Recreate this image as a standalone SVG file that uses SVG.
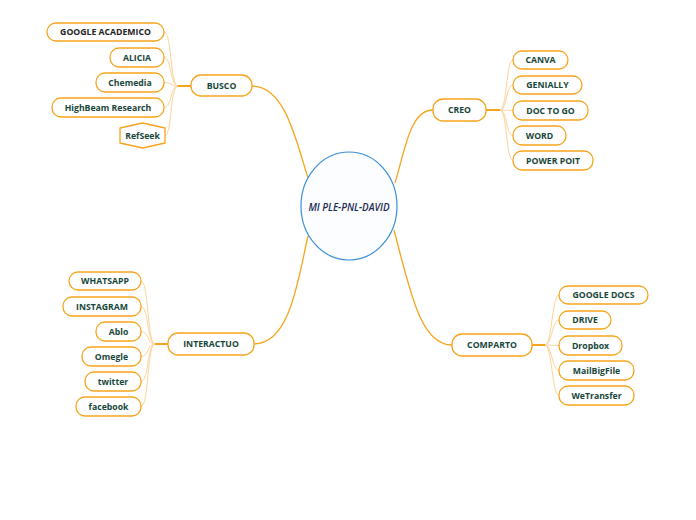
<svg xmlns="http://www.w3.org/2000/svg" width="696" height="520" viewBox="0 0 696 520">
<style>
.n{fill:#fff;stroke:#f7a41d;stroke-width:1.3}
.t{font-family:"Open Sans","Noto Sans",sans-serif;font-weight:700;font-size:8.7px;fill:#17463a;text-anchor:middle;dominant-baseline:central}
.main{fill:none;stroke:#f7a41d;stroke-width:1.3}
.stub{fill:none;stroke:#f7a41d;stroke-width:2}
.sub{fill:none;stroke:#fcd39a;stroke-width:1}
</style>
<rect width="696" height="520" fill="#fff"/>
<g id="connectors">
<path class="main" d="M252,86 C285,86 296,140 308,178"/>
<path class="main" d="M395,183 C405,150 410,110 433,110"/>
<path class="main" d="M254,344 C290,344 298,280 308,236"/>
<path class="main" d="M394,230 C410,290 420,345 452,345"/>
<path class="stub" d="M191,86 H178"/>
<path class="sub" d="M178,86 C170,86 172,32 164,32"/>
<path class="sub" d="M178,86 C170,86 172,57.5 164,57.5"/>
<path class="sub" d="M178,86 C170,86 172,82.5 164,82.5"/>
<path class="sub" d="M178,86 C170,86 172,107.5 164,107.5"/>
<path class="sub" d="M178,86 C170,86 172,135.5 165,135.5"/>
<path class="stub" d="M486,110 H500"/>
<path class="sub" d="M500,110 C507,110 506,60 513,60"/>
<path class="sub" d="M500,110 C507,110 506,85 513,85"/>
<path class="sub" d="M500,110 C507,110 506,110.5 513,110.5"/>
<path class="sub" d="M500,110 C507,110 506,135.5 513,135.5"/>
<path class="sub" d="M500,110 C507,110 506,160.5 513,160.5"/>
<path class="stub" d="M168,344 H155"/>
<path class="sub" d="M155,344 C147,344 149,281 141,281"/>
<path class="sub" d="M155,344 C147,344 149,306.5 141,306.5"/>
<path class="sub" d="M155,344 C147,344 149,331.5 141,331.5"/>
<path class="sub" d="M155,344 C147,344 149,356.5 141,356.5"/>
<path class="sub" d="M155,344 C147,344 149,381.5 141,381.5"/>
<path class="sub" d="M155,344 C147,344 149,406.5 141,406.5"/>
<path class="stub" d="M532,345 H545"/>
<path class="sub" d="M545,345 C552,345 552,295 559,295"/>
<path class="sub" d="M545,345 C552,345 552,320 559,320"/>
<path class="sub" d="M545,345 C552,345 552,345.5 559,345.5"/>
<path class="sub" d="M545,345 C552,345 552,370.5 559,370.5"/>
<path class="sub" d="M545,345 C552,345 552,395.5 559,395.5"/>
</g>
<g id="center">
<ellipse cx="349" cy="206" rx="48" ry="54" fill="#fcfdfe" stroke="#3b8fd9" stroke-width="1.2"/>
<text x="349" y="207" style="font-family:'Open Sans','Noto Sans',sans-serif;font-style:italic;font-weight:600;font-size:9.8px;fill:#1b2a55;text-anchor:middle;dominant-baseline:central">MI PLE-PNL-DAVID</text>
</g>
<g id="busco"><rect class="n" x="191" y="75" width="61" height="21" rx="10"/><text class="t" x="221.5" y="86">BUSCO</text></g>
<g id="google-academico"><rect class="n" x="47" y="23" width="117" height="18" rx="9"/><text class="t" x="105.5" y="32" style="fill:#222">GOOGLE ACADEMICO</text></g>
<g id="alicia"><rect class="n" x="110" y="48" width="54" height="19" rx="9"/><text class="t" x="137" y="57.5">ALICIA</text></g>
<g id="chemedia"><rect class="n" x="96" y="73" width="68" height="19" rx="9"/><text class="t" x="130" y="82.5">Chemedia</text></g>
<g id="highbeam"><rect class="n" x="52" y="98" width="112" height="19" rx="9"/><text class="t" x="108" y="107.5">HighBeam Research</text></g>
<g id="refseek"><path class="n" stroke-linejoin="round" d="M120,128 L142.5,123 L165,128 L165,143 L142.5,148 L120,143 Z"/><text class="t" x="142.5" y="135.5">RefSeek</text></g>
<g id="creo"><rect class="n" x="433" y="99" width="53" height="22" rx="10"/><text class="t" x="459.5" y="110">CREO</text></g>
<g id="canva"><rect class="n" x="513" y="51" width="55" height="18" rx="9"/><text class="t" x="540.5" y="60">CANVA</text></g>
<g id="genially"><rect class="n" x="513" y="76" width="69" height="18" rx="9"/><text class="t" x="547.5" y="85">GENIALLY</text></g>
<g id="doctogo"><rect class="n" x="513" y="101" width="75" height="19" rx="9"/><text class="t" x="550.5" y="110.5">DOC TO GO</text></g>
<g id="word"><rect class="n" x="513" y="126" width="53" height="19" rx="9"/><text class="t" x="539.5" y="135.5">WORD</text></g>
<g id="powerpoit"><rect class="n" x="513" y="151" width="80" height="19" rx="9"/><text class="t" x="553" y="160.5">POWER POIT</text></g>
<g id="interactuo"><rect class="n" x="168" y="333" width="86" height="22" rx="10"/><text class="t" x="211" y="344">INTERACTUO</text></g>
<g id="whatsapp"><rect class="n" x="69" y="272" width="72" height="18" rx="9"/><text class="t" x="105" y="281">WHATSAPP</text></g>
<g id="instagram"><rect class="n" x="63" y="297" width="78" height="19" rx="9"/><text class="t" x="102" y="306.5">INSTAGRAM</text></g>
<g id="ablo"><rect class="n" x="96" y="322" width="45" height="19" rx="9"/><text class="t" x="118.5" y="331.5">Ablo</text></g>
<g id="omegle"><rect class="n" x="82" y="347" width="59" height="19" rx="9"/><text class="t" x="111.5" y="356.5">Omegle</text></g>
<g id="twitter"><rect class="n" x="85" y="372" width="56" height="19" rx="9"/><text class="t" x="113" y="381.5">twitter</text></g>
<g id="facebook"><rect class="n" x="76" y="397" width="65" height="19" rx="9"/><text class="t" x="108.5" y="406.5">facebook</text></g>
<g id="comparto"><rect class="n" x="452" y="334" width="80" height="22" rx="10"/><text class="t" x="492" y="345">COMPARTO</text></g>
<g id="googledocs"><rect class="n" x="559" y="286" width="89" height="18" rx="9"/><text class="t" x="603.5" y="295">GOOGLE DOCS</text></g>
<g id="drive"><rect class="n" x="559" y="311" width="52" height="18" rx="9"/><text class="t" x="585" y="320">DRIVE</text></g>
<g id="dropbox"><rect class="n" x="559" y="336" width="63" height="19" rx="9"/><text class="t" x="590.5" y="345.5">Dropbox</text></g>
<g id="mailbigfile"><rect class="n" x="559" y="361" width="75" height="19" rx="9"/><text class="t" x="596.5" y="370.5">MailBigFile</text></g>
<g id="wetransfer"><rect class="n" x="559" y="386" width="75" height="19" rx="9"/><text class="t" x="596.5" y="395.5">WeTransfer</text></g>
</svg>
